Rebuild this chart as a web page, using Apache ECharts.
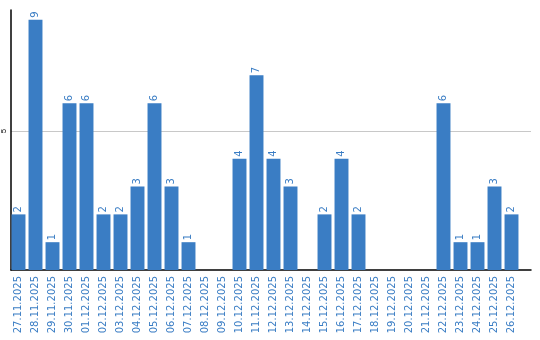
<!DOCTYPE html>
<html><head><meta charset="utf-8">
<script src="https://cdn.jsdelivr.net/npm/echarts@6/dist/echarts.min.js"></script>
<style>html,body{margin:0;padding:0;background:#fff}#c{width:540px;height:340px}</style>
</head><body><div id="c"></div>
<script>
const categories = ["27.11.2025","28.11.2025","29.11.2025","30.11.2025","01.12.2025","02.12.2025","03.12.2025","04.12.2025","05.12.2025","06.12.2025","07.12.2025","08.12.2025","09.12.2025","10.12.2025","11.12.2025","12.12.2025","13.12.2025","14.12.2025","15.12.2025","16.12.2025","17.12.2025","18.12.2025","19.12.2025","20.12.2025","21.12.2025","22.12.2025","23.12.2025","24.12.2025","25.12.2025","26.12.2025"];
const values = [2,9,1,6,6,2,2,3,6,3,1,0,0,4,7,4,3,0,2,4,2,0,0,0,0,6,1,1,3,2];
const yTicks = [5];
const blue = '#3a7dc4';
const yMax = 9.35;
const chart = echarts.init(document.getElementById('c'));
chart.setOption({
  animation:false,
  grid:[
    {left:10,right:20,top:10,bottom:70,containLabel:false},
    {left:10,right:9,top:10,bottom:70,containLabel:false}
  ],
  xAxis:[
    {type:'category',gridIndex:0,data:categories,
      axisLine:{show:false},axisTick:{show:false},
      axisLabel:{rotate:90,color:blue,fontSize:10,fontFamily:'DejaVu Sans',interval:0,margin:6}},
    {type:'value',gridIndex:1,min:0,max:1,
      axisLine:{show:true,onZero:false,lineStyle:{color:'#000',width:1.5}},axisTick:{show:false},
      axisLabel:{show:false},splitLine:{show:false}}
  ],
  yAxis:[
    {type:'value',gridIndex:0,min:0,max:yMax,show:false},
    {type:'value',gridIndex:1,min:0,max:yMax,interval:5,
      axisLine:{show:true,lineStyle:{color:'#000',width:1.5}},axisTick:{show:false},
      splitLine:{show:true,lineStyle:{color:['transparent','#c8c8c8','transparent']}},
      axisLabel:{rotate:90,fontSize:8,color:'#000',margin:3,formatter:v=>yTicks.includes(v)?String(v):''}}
  ],
  series:[{type:'bar',xAxisIndex:0,yAxisIndex:0,data:values.map(v=>v===0?null:v),barCategoryGap:'18%',
    itemStyle:{color:blue},
    label:{show:true,position:'top',rotate:90,align:'left',verticalAlign:'middle',distance:2,color:blue,fontSize:10,fontFamily:'DejaVu Sans'}}]
});
</script></body></html>
